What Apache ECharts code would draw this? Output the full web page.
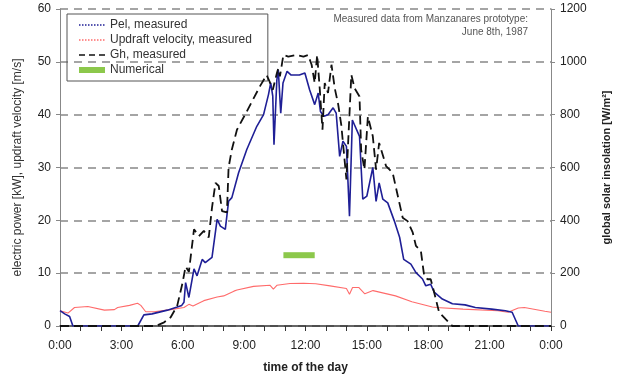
<!DOCTYPE html>
<html>
<head>
<meta charset="utf-8">
<script src="https://cdn.jsdelivr.net/npm/echarts@6/dist/echarts.min.js"></script>
<style>
  html, body { margin: 0; padding: 0; background: #fff; }
  #chart { width: 620px; height: 379px; }
</style>
</head>
<body>
<div id="chart"></div>
<script>
// [hour of day, value]
var pel = [
  [0, 2.9], [0.23, 2.3], [0.47, 1.8], [0.63, 0], [3.8, 0], [4.1, 2.1], [4.5, 2.3],
  [5.25, 3.0], [5.73, 3.6], [5.95, 3.9], [6.06, 4.5], [6.14, 8.2], [6.3, 5.4],
  [6.55, 10.8], [6.7, 9.5], [6.95, 12.6], [7.1, 12.0], [7.43, 13.0], [7.68, 20.2],
  [7.84, 18.9], [8.08, 18.3], [8.24, 23.6], [8.4, 24.3], [8.73, 29.0], [9.13, 33.4],
  [9.62, 37.8], [9.95, 40], [10.19, 43.8], [10.3, 46], [10.4, 43.5], [10.46, 34.3],
  [10.6, 46.6], [10.67, 48.5], [10.79, 40.3], [10.9, 46], [11.1, 48.2], [11.3, 47.5],
  [11.7, 47.5], [11.97, 47.9], [12.2, 44.7], [12.45, 41.9], [12.62, 44.1], [12.73, 40.6],
  [12.9, 39.7], [13.1, 40], [13.35, 41.3], [13.5, 40.3], [13.67, 32.1], [13.83, 35],
  [14.0, 34], [14.15, 20.8], [14.29, 39], [14.64, 35.9], [14.8, 24], [15.0, 24.6],
  [15.29, 30], [15.45, 23.6], [15.6, 27.1], [15.78, 24], [16.02, 23.3], [16.34, 19.9],
  [16.6, 16.8], [16.8, 12.6], [17.15, 11.7], [17.4, 10.1], [17.72, 8.9], [17.88, 7.6],
  [18.12, 7.9], [18.29, 6.4], [18.69, 5.1], [19.18, 4.2], [19.8, 4.0], [20.3, 3.5],
  [21.1, 3.2], [21.77, 2.9], [22.1, 2.6], [22.4, 0], [24, 0]
];

var updraft = [
  [0, 2.9], [0.39, 2.45], [0.71, 3.5], [1.36, 3.7], [2.17, 3.0], [2.66, 3.1], [2.82, 3.5],
  [3.4, 3.9], [3.79, 4.3], [3.95, 3.9], [4.19, 2.7], [4.6, 2.7], [5.41, 3.1], [6.06, 3.5],
  [6.3, 4.1], [6.5, 3.8], [7.03, 4.8], [7.68, 5.5], [8.0, 5.7], [8.5, 6.6], [8.65, 6.8],
  [9.46, 7.5], [10.27, 7.7], [10.43, 7.0], [10.6, 7.7], [11.24, 8.05], [11.9, 8.1],
  [12.5, 8.0], [13.2, 7.6], [14.0, 7.1], [14.15, 6.0], [14.3, 7.3], [14.6, 7.3],
  [14.9, 6.1], [15.3, 6.7], [16.4, 5.7], [17.2, 4.6], [18.2, 3.6], [18.4, 3.5],
  [19.7, 3.2], [21.4, 2.9], [21.9, 2.6], [22.4, 3.4], [22.7, 3.5], [23.7, 2.8], [24, 2.6]
];

var gh = [
  [0, 0], [4.68, 0], [5.09, 14], [5.41, 33], [5.73, 77], [5.98, 160], [6.14, 225],
  [6.3, 205], [6.55, 366], [6.79, 340], [7.03, 360], [7.27, 335], [7.43, 448], [7.6, 542],
  [7.76, 530], [7.92, 435], [8.16, 430], [8.24, 600], [8.4, 668], [8.65, 743], [9.13, 812],
  [9.77, 907], [10.1, 950], [10.24, 926], [10.4, 894], [10.6, 957], [10.67, 976],
  [10.75, 945], [10.92, 1026], [11.16, 1020], [11.56, 1026], [11.9, 1020], [12.13, 1026],
  [12.3, 989], [12.45, 920], [12.57, 1026], [12.7, 894], [12.83, 743], [12.94, 920],
  [13.1, 882], [13.27, 989], [13.43, 900], [13.6, 838], [13.75, 760], [14.0, 555],
  [14.24, 951], [14.4, 900], [14.64, 869], [14.72, 668], [14.88, 592], [15.05, 793],
  [15.29, 718], [15.45, 592], [15.6, 693], [15.94, 605], [16.26, 580], [16.75, 410],
  [16.99, 397], [17.24, 354], [17.4, 303], [17.64, 284], [17.8, 190], [17.96, 177],
  [18.12, 177], [18.29, 127], [18.45, 77], [18.53, 52], [18.85, 26], [19.18, 0], [24, 0]
];

var numerical = [[10.92, 13.4], [12.45, 13.4]];

var font = 'Liberation Sans, Arial, sans-serif';
var noDot = { color: 'rgba(0,0,0,0)', borderWidth: 0, opacity: 0 };

var chart = echarts.init(document.getElementById('chart'));

var option = {
  animation: false,
  backgroundColor: '#fff',
  textStyle: { fontFamily: font },
  grid: { left: 60, right: 68, top: 9, bottom: 52 },
  legend: {
    orient: 'vertical',
    left: 67,
    top: 14,
    padding: [5, 16, 5, 9],
    itemGap: 3,
    itemWidth: 26,
    itemHeight: 12,
    borderColor: '#555',
    borderWidth: 1,
    textStyle: { fontSize: 12, color: '#333', fontFamily: font },
    data: [
      { name: 'Pel, measured', itemStyle: noDot, lineStyle: { type: 'dotted', width: 1.5 } },
      { name: 'Updraft velocity, measured', itemStyle: noDot, lineStyle: { type: 'dotted', width: 1.5 } },
      { name: 'Gh, measured', itemStyle: noDot, lineStyle: { type: [6, 4], width: 1.5 } },
      { name: 'Numerical', itemStyle: noDot, lineStyle: { width: 6 } }
    ]
  },
  graphic: [{
    type: 'text',
    right: 92,
    top: 14,
    style: { text: 'Measured data from Manzanares prototype:', fill: '#555', font: '10px ' + font }
  }, {
    type: 'text',
    right: 92,
    top: 27,
    style: { text: 'June 8th, 1987', fill: '#555', font: '10px ' + font }
  }],
  xAxis: {
    type: 'value',
    min: 0,
    max: 24,
    interval: 3,
    name: 'time of the day',
    nameLocation: 'middle',
    nameGap: 36,
    nameTextStyle: { fontWeight: 'bold', fontSize: 12, color: '#222' },
    axisLine: { onZero: false, lineStyle: { color: '#333', width: 1.5 } },
    axisTick: { length: 5, lineStyle: { color: '#333' } },
    minorTick: { show: true, splitNumber: 3, length: 5, lineStyle: { color: '#333' } },
    axisLabel: {
      fontSize: 12, color: '#222', margin: 14,
      formatter: function (v) { return (v % 24) + ':00'; }
    },
    splitLine: { show: false }
  },
  yAxis: [{
    type: 'value',
    min: 0,
    max: 60,
    interval: 10,
    name: 'electric power [kW], updraft velocity [m/s]',
    nameLocation: 'middle',
    nameGap: 36,
    nameTextStyle: { fontSize: 12, color: '#333' },
    axisLine: { show: true, lineStyle: { color: '#888' } },
    axisTick: { show: true, length: 4, lineStyle: { color: '#888' } },
    axisLabel: { fontSize: 12, color: '#222', margin: 9, formatter: function (v) { return String(v); } },
    splitLine: { lineStyle: { type: [8, 6], color: '#888', width: 1.5 } }
  }, {
    type: 'value',
    min: 0,
    max: 1200,
    interval: 200,
    name: 'global solar insolation [W/m²]',
    nameLocation: 'middle',
    nameGap: 50,
    nameRotate: 90,
    nameTextStyle: { fontSize: 11, fontWeight: 'bold', color: '#222' },
    axisLine: { show: true, lineStyle: { color: '#888' } },
    axisTick: { show: true, length: 4, lineStyle: { color: '#888' } },
    axisLabel: { fontSize: 12, color: '#222', margin: 9, formatter: function (v) { return String(v); } },
    splitLine: { show: false }
  }],
  series: [{
    name: 'Pel, measured',
    type: 'line',
    data: pel,
    symbol: 'none',
    z: 4,
    itemStyle: { color: '#1f1f96' },
    lineStyle: { color: '#1f1f96', width: 1.6 }
  }, {
    name: 'Updraft velocity, measured',
    type: 'line',
    data: updraft,
    symbol: 'none',
    z: 3,
    itemStyle: { color: '#ff6b6b' },
    lineStyle: { color: '#ff6b6b', width: 1.1 }
  }, {
    name: 'Gh, measured',
    type: 'line',
    yAxisIndex: 1,
    data: gh,
    symbol: 'none',
    z: 5,
    itemStyle: { color: '#111' },
    lineStyle: { color: '#111', width: 1.8, type: [9, 5] }
  }, {
    name: 'Numerical',
    type: 'line',
    data: numerical,
    symbol: 'none',
    z: 6,
    itemStyle: { color: '#8cc84b' },
    lineStyle: { color: '#8cc84b', width: 6 }
  }]
};

chart.setOption(option);
</script>
</body>
</html>
